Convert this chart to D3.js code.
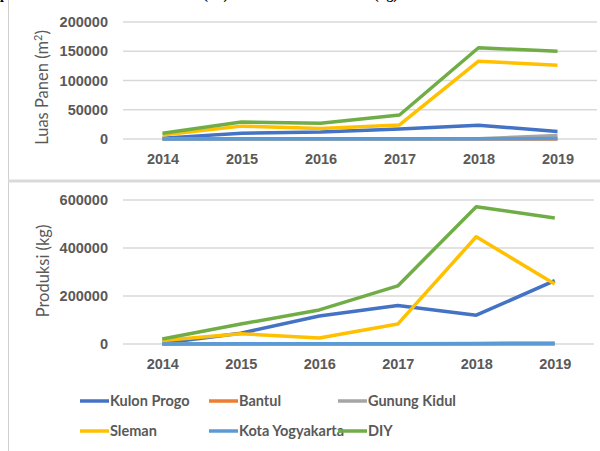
<!DOCTYPE html>
<html>
<head>
<meta charset="utf-8">
<script src="https://cdnjs.cloudflare.com/ajax/libs/d3/7.8.5/d3.min.js"></script>
<style>
  body { margin: 0; background: #fff; }
  svg { display: block; font-family: Lato, "Open Sans", sans-serif; }
  .tick text { fill: #595959; font-weight: bold; font-size: 14.5px; }
</style>
</head>
<body>
<script>
// data
var years = [2014, 2015, 2016, 2017, 2018, 2019]
var seriesNames = ["Kulon Progo", "Bantul", "Gunung Kidul", "Sleman", "Kota Yogyakarta", "DIY"]
var colors = ["#4472C4", "#ED7D31", "#A5A5A5", "#FFC000", "#5B9BD5", "#70AD47"]

// Luas Panen (m2)
var panenKulonProgo = [1500, 10000, 12000, 17000, 23500, 13000]
var panenBantul = [0, 0, 0, 0, 0, 0]
var panenGunungKidul = [0, 0, 0, 0, 500, 6000]
var panenSleman = [7000, 22000, 18000, 24000, 133000, 126000]
var panenKota = [200, 300, 300, 300, 500, 800]
var panenDIY = [10000, 29000, 27000, 41000, 156000, 150000]
var panenTicks = [0, 50000, 100000, 150000, 200000]

// Produksi (kg)
var prodKulonProgo = [3000, 45000, 117000, 160000, 120000, 264000]
var prodBantul = [0, 0, 0, 0, 0, 0]
var prodGunungKidul = [0, 0, 0, 500, 1500, 2500]
var prodSleman = [15000, 43000, 25000, 83000, 447000, 250000]
var prodKota = [500, 800, 800, 1000, 2500, 3000]
var prodDIY = [21000, 83000, 142000, 242000, 572000, 525000]
var prodTicks = [0, 200000, 400000, 600000]

var width = 600
var height = 451

var svg = d3.select("body").append("svg")
    .attr("width", width)
    .attr("height", height)

// afgesneden bijschrift bovenaan
svg.append("text")
    .attr("x", 0)
    .attr("y", -1)
    .style("font-family", "Liberation Serif, serif")
    .style("font-weight", "bold")
    .style("font-size", "14px")
    .attr("textLength", 398)
    .text("persebaran Luas Panen Tanaman (m²) dan Produksi Tanaman (kg)")

// kader: linkerrand en scheiding tussen de panelen
svg.append("line")
    .attr("x1", 8.5).attr("x2", 8.5).attr("y1", 0).attr("y2", height)
    .style("stroke", "#d0d0d0")
svg.append("line")
    .attr("x1", 8).attr("x2", width).attr("y1", 181).attr("y2", 181)
    .style("stroke", "#dadada").style("stroke-width", 3)

function drawPanel(cfg) {
  var x = d3.scalePoint().domain(years).range([cfg.left, cfg.right]).padding(0.5)
  var y = d3.scaleLinear().domain([0, cfg.max]).range([cfg.bottom, cfg.top])

  var g = svg.append("g")

  // gridlines
  g.append("g")
    .selectAll("line")
    .data(cfg.ticks)
    .enter().append("line")
    .attr("x1", cfg.left).attr("x2", cfg.right)
    .attr("y1", d => y(d)).attr("y2", d => y(d))
    .style("stroke", "#d9d9d9")
    .style("stroke-width", 1.5)

  var yAxis = g.append("g")
    .attr("transform", `translate(${cfg.left},0)`)
    .call(d3.axisLeft(y).tickValues(cfg.ticks).tickSize(0).tickPadding(15).tickFormat(d3.format("d")))
  yAxis.select(".domain").remove()

  var xAxis = g.append("g")
    .attr("transform", `translate(0,${cfg.bottom})`)
    .call(d3.axisBottom(x).tickSize(0).tickPadding(15).tickFormat(d3.format("d")))
  xAxis.select(".domain").remove()

  var line = d3.line()
    .x((d, i) => x(years[i]))
    .y(d => y(d))

  cfg.series.forEach(function(s, i) {
    g.append("path")
      .datum(s)
      .attr("d", line)
      .style("fill", "none")
      .style("stroke", colors[i])
      .style("stroke-width", 3.5)
      .style("stroke-linejoin", "round")
  })

  // y as label
  g.append("text")
    .attr("transform", `translate(${cfg.labelX},${(cfg.top + cfg.bottom) / 2 + cfg.labelShift}) rotate(-90)`)
    .attr("dy", "0.35em")
    .style("text-anchor", "middle")
    .style("fill", "#595959")
    .style("font-size", "16.5px")
    .html(cfg.label)
}

drawPanel({
  left: 123, right: 597, top: 22, bottom: 139, max: 200000,
  ticks: panenTicks,
  series: [panenKulonProgo, panenBantul, panenGunungKidul, panenSleman, panenKota, panenDIY],
  labelX: 42, labelShift: 7,
  label: "Luas Panen (m<tspan baseline-shift='super' font-size='11px'>2</tspan>)"
})

drawPanel({
  left: 123, right: 594, top: 200, bottom: 344, max: 600000,
  ticks: prodTicks,
  series: [prodKulonProgo, prodBantul, prodGunungKidul, prodSleman, prodKota, prodDIY],
  labelX: 43, labelShift: -1,
  label: "Produksi (kg)"
})

// legenda
var legend = svg.selectAll(".legend")
    .data(seriesNames)
    .enter().append("g")
    .attr("class", "legend")
    .attr("transform", (d, i) => `translate(${80 + (i % 3) * 129},${i < 3 ? 401 : 431})`)

legend.append("line")
    .attr("x1", 0).attr("x2", 29)
    .attr("y1", 0).attr("y2", 0)
    .style("stroke", (d, i) => colors[i])
    .style("stroke-width", 3.5)

legend.append("text")
    .attr("x", 30)
    .attr("dy", "0.35em")
    .style("fill", "#595959")
    .style("font-weight", "bold")
    .style("font-size", "14.5px")
    .text(d => d)
</script>
</body>
</html>
